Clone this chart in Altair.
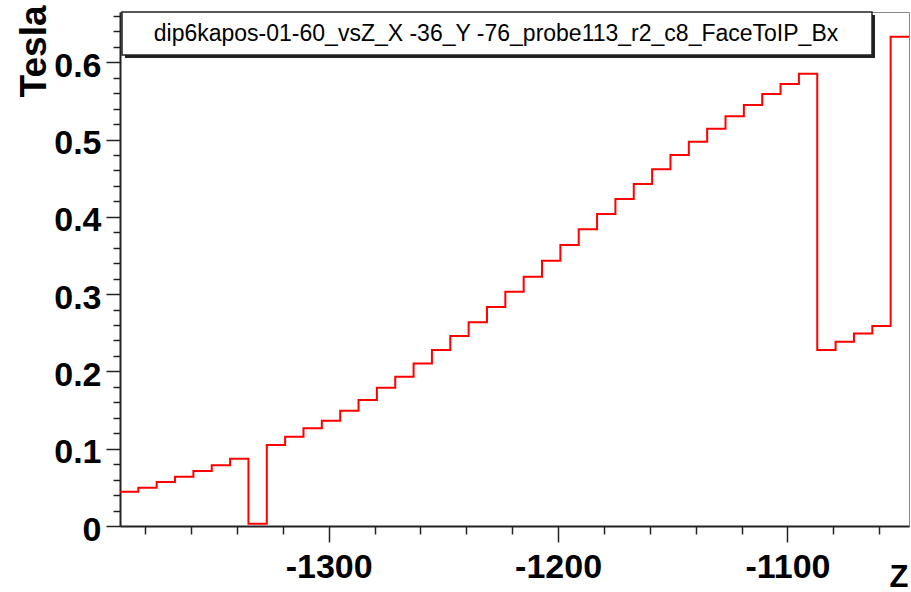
import altair as alt
import pandas as pd

# ---- data ----
bin_edges = [-1391, -1383, -1375, -1367, -1359, -1351, -1343, -1335, -1327, -1319,
             -1311, -1303, -1295, -1287, -1279, -1271, -1263, -1255, -1247, -1239,
             -1231, -1223, -1215, -1207, -1199, -1191, -1183, -1175, -1167, -1159,
             -1151, -1143, -1135, -1127, -1119, -1111, -1103, -1095, -1087, -1079,
             -1071, -1063, -1055, -1047]
bx_values = [0.0444, 0.0496, 0.0569, 0.0638, 0.0711, 0.0785, 0.0871, 0.003,
             0.1048, 0.1156, 0.1264, 0.1363, 0.149, 0.163, 0.179, 0.193,
             0.2104, 0.2277, 0.2458, 0.2635, 0.2833, 0.3031, 0.3225, 0.3432,
             0.3635, 0.3838, 0.4036, 0.423, 0.4424, 0.4614, 0.480, 0.497,
             0.514, 0.530, 0.5446, 0.559, 0.572, 0.585, 0.2277, 0.2384,
             0.249, 0.2587, 0.633]

x_tick_values = [-1380, -1360, -1340, -1320, -1300, -1280, -1260, -1240, -1220, -1200,
                 -1180, -1160, -1140, -1120, -1100, -1080, -1060]
y_tick_values = [0.0, 0.02, 0.04, 0.06, 0.08, 0.1, 0.12, 0.14, 0.16, 0.18, 0.2,
                 0.22, 0.24, 0.26, 0.28, 0.3, 0.32, 0.34, 0.36, 0.38, 0.4,
                 0.42, 0.44, 0.46, 0.48, 0.5, 0.52, 0.54, 0.56, 0.58, 0.6,
                 0.62, 0.64, 0.66]

hist_title = "dip6kapos-01-60_vsZ_X -36_Y -76_probe113_r2_c8_FaceToIP_Bx"
x_title = "Z"
y_title = "Tesla"

# step table: each bin's left edge with its value, plus the final right edge
step_z = bin_edges[:-1] + [bin_edges[-1]]
step_v = bx_values + [bx_values[-1]]
df = pd.DataFrame({"z": step_z, "bx": step_v})

FONT = "Liberation Sans"
AX = "#222222"

x_scale = alt.Scale(domain=[-1391, -1047], nice=False, zero=False)
y_scale = alt.Scale(domain=[0, 0.665], nice=False, zero=False)

x_axis = alt.Axis(
    values=x_tick_values,
    labelExpr="datum.value % 100 === 0 ? '' + datum.value : ''",
    tickSize={"condition": {"test": "datum.value % 100 === 0", "value": 16}, "value": 8},
    tickColor=AX, tickWidth=1.5,
    domainColor=AX, domainWidth=2,
    labelFont=FONT, labelFontSize=34, labelFontWeight="bold", labelColor="black",
    labelPadding=8, labelOverlap=False, labelFlush=False, labelBound=False,
    grid=False,
    title=x_title, titleFont=FONT, titleFontSize=31, titleFontWeight="bold",
    titleColor="black", titleAnchor="end", titleAlign="right", titleBaseline="top",
    titleX=788, titleY=36,
)
y_axis = alt.Axis(
    values=y_tick_values,
    labelExpr="datum.value === 0 ? '0' : (abs(datum.value * 10 - round(datum.value * 10)) < 1e-6 ? format(datum.value, '.1f') : '')",
    tickSize={"condition": {"test": "abs(datum.value * 10 - round(datum.value * 10)) < 1e-6", "value": 14}, "value": 7},
    tickColor=AX, tickWidth=1.5,
    domainColor=AX, domainWidth=2,
    labelFont=FONT, labelFontSize=34, labelFontWeight="bold", labelColor="black",
    labelPadding=5, labelOverlap=False, labelFlush=False, labelBound=False,
    labelOffset=4,
    grid=False,
    title=y_title, titleFont=FONT, titleFontSize=37, titleFontWeight="bold",
    titleColor="black", titleAngle=270, titleAlign="right", titleBaseline="alphabetic",
    titleX=-75, titleY=-7,
)

line = alt.Chart(df).mark_line(
    interpolate="step-after", color="#ff0000", strokeWidth=2, clip=True
).encode(
    x=alt.X("z:Q", scale=x_scale, axis=x_axis),
    y=alt.Y("bx:Q", scale=y_scale, axis=y_axis),
)

box_data = alt.Data(values=[{"t": hist_title}])
shadow = alt.Chart(box_data).mark_rect(fill=AX).encode(
    x=alt.value(5), x2=alt.value(755), y=alt.value(3), y2=alt.value(46)
)
box = alt.Chart(box_data).mark_rect(fill="white", stroke=AX, strokeWidth=1.5).encode(
    x=alt.value(2), x2=alt.value(752), y=alt.value(0), y2=alt.value(43)
)
title_text = alt.Chart(box_data).mark_text(
    font=FONT, fontSize=23, color="black", align="center", baseline="middle"
).encode(
    x=alt.value(376), y=alt.value(22), text="t:N"
)

chart = alt.layer(line, shadow, box, title_text).properties(
    width=789, height=514,
    autosize=alt.AutoSizeParams(type="none"),
    padding={"left": 120, "top": 12, "right": 2, "bottom": 66},
    background="white",
).configure_view(stroke="#888888", strokeWidth=1)

chart.save("out.html", embed_options={"renderer": "svg", "actions": False})
